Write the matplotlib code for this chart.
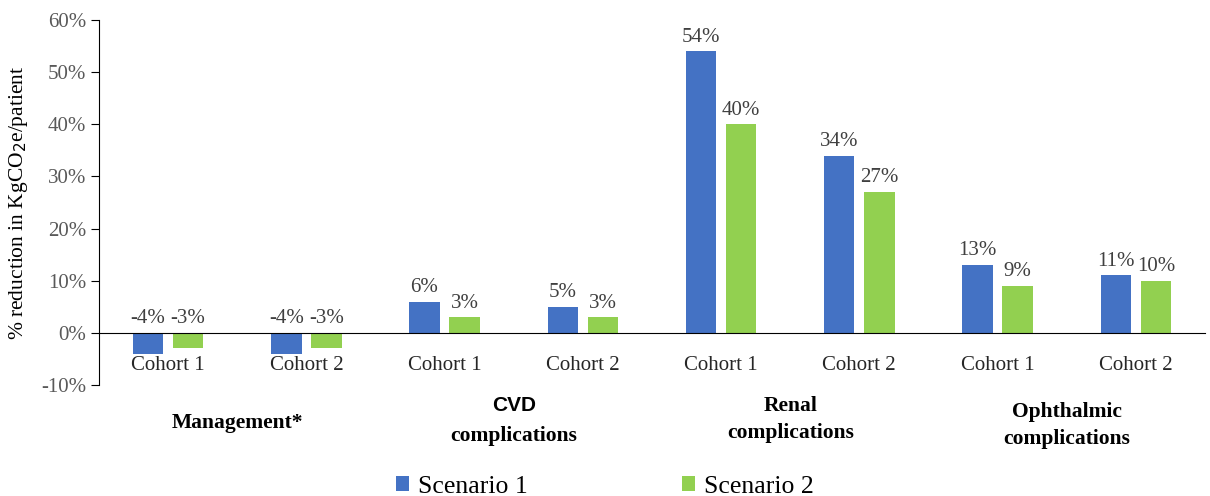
import matplotlib.pyplot as plt
import numpy as np

cohorts = ["Cohort 1", "Cohort 2"] * 4
groups = ["Management*", "CVD\ncomplications", "Renal\ncomplications", "Ophthalmic\ncomplications"]
scenario1 = [-4, -4, 6, 5, 54, 34, 13, 11]
scenario2 = [-3, -3, 3, 3, 40, 27, 9, 10]
series_names = ["Scenario 1", "Scenario 2"]

blue = "#4472C4"
green = "#92D050"
grey = "#404040"

plt.rcParams['font.family'] = ['Liberation Serif', 'DejaVu Serif']

fig = plt.figure(figsize=(12.1, 4.96), dpi=100)
ax = fig.add_axes([0.0818, 0.2238, 0.914, 0.736])

x = np.arange(len(cohorts))
w = 0.22
off = 0.145
b1 = ax.bar(x - off, scenario1, w, color=blue, label=series_names[0])
b2 = ax.bar(x + off, scenario2, w, color=green, label=series_names[1])

for bars, vals in ((b1, scenario1), (b2, scenario2)):
    for rect, v in zip(bars, vals):
        y = max(v, 0)
        ax.text(rect.get_x() + rect.get_width() / 2, y + 0.9, f"{v}%",
                ha="center", va="bottom", fontsize=15, color=grey)

ax.set_xlim(-0.5, len(cohorts) - 0.5)
ax.set_ylim(-10, 60)
ax.set_yticks(range(-10, 61, 10))
ax.set_yticklabels([f"{t}%" for t in range(-10, 61, 10)])
ax.tick_params(axis="y", labelsize=15, labelcolor="#595959", length=6, direction="out", pad=3)

ax.spines["top"].set_visible(False)
ax.spines["right"].set_visible(False)
ax.spines["bottom"].set_position(("data", 0))
ax.set_xticks(x)
ax.set_xticklabels(cohorts, fontsize=15, color="#262626")
ax.tick_params(axis="x", length=0, pad=17)

ax.set_ylabel("% reduction in KgCO$_2$e/patient", fontsize=15.5, labelpad=8)

# category labels under each pair of cohorts
for i, g in enumerate(groups):
    cx = 2 * i + 0.5
    if g.startswith("CVD"):
        ax.text(cx, -14.0, "CVD", ha="center", va="center", fontsize=15,
                fontweight="bold", family=["Liberation Sans", "DejaVu Sans"],
                clip_on=False)
        ax.text(cx, -19.8, "complications", ha="center", va="center", fontsize=15.5,
                fontweight="bold", clip_on=False)
    elif "\n" in g:
        top, bottom = g.split("\n")
        y0 = -14.0 if i == 2 else -15.1
        ax.text(cx, y0, top, ha="center", va="center", fontsize=15.5,
                fontweight="bold", clip_on=False)
        ax.text(cx, y0 - 5.3, bottom, ha="center", va="center", fontsize=15.5,
                fontweight="bold", clip_on=False)
    else:
        ax.text(cx, -17.2, g, ha="center", va="center", fontsize=15.5,
                fontweight="bold", clip_on=False)

fig.legend(handles=[b1, b2], labels=series_names, loc="lower center",
           bbox_to_anchor=(0.5, -0.05), ncol=2, frameon=False, fontsize=18.5,
           handlelength=0.5, handleheight=0.5, handletextpad=0.35, columnspacing=6.0)

fig.savefig("out.png", dpi=100)
